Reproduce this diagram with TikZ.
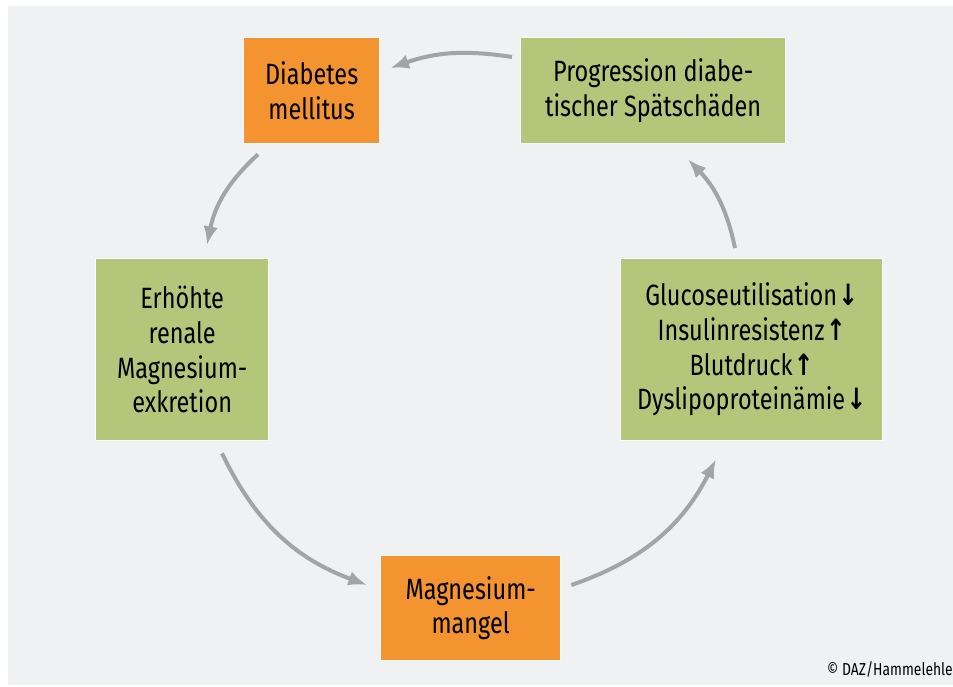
\documentclass[tikz,border=0pt]{standalone}
\usepackage{fontspec}
\setmainfont{Fira Sans}[FakeStretch=0.8]
\newfontfamily\symfont{DejaVu Sans}[FakeStretch=0.8]
\usepackage{xcolor}
\usepackage{tikz}
\usetikzlibrary{arrows.meta, positioning}

\definecolor{dazOrange}{HTML}{F39430}
\definecolor{dazGreen}{HTML}{B4C67A}
\definecolor{dazBack}{HTML}{F0F1F3}
\definecolor{dazArrow}{HTML}{A3A4A6}

\newcommand{\dn}{\kern1pt{\symfont\bfseries\char"2193}}
\newcommand{\up}{\kern1pt{\symfont\bfseries\char"2191}}

\begin{document}
\begin{tikzpicture}[
  x=0.75pt, y=0.75pt,
  box/.style={rectangle, draw=white!70!dazBack, line width=1pt, inner sep=0pt,
              align=center, font=\fontsize{22}{26}\selectfont, anchor=north west},
  orangeBox/.style={box, fill=dazOrange},
  greenBox/.style={box, fill=dazGreen},
  arr/.style={-{Latex[length=14pt, width=11pt]}, line width=3pt, draw=dazArrow}
]
% background
\fill[white] (0,0) rectangle (953,-686);
\fill[dazBack] (8,-6) rectangle (953,-685);
\useasboundingbox (0,0) rectangle (953,-686);

% boxes
\node[orangeBox, minimum width=102pt, minimum height=79.5pt] (diab) at (243,-37) {Diabetes\\mellitus};
\node[greenBox, minimum width=198.75pt, minimum height=79.5pt] (prog) at (520,-37) {Progression diabe-\\tischer Spätschäden};
\node[greenBox, minimum width=129.75pt, minimum height=136.5pt] (renal) at (95,-258) {Erhöhte\\renale\\Magnesium-\\exkretion};
\node[greenBox, minimum width=196.5pt, minimum height=136.5pt] (gluc) at (620,-258) {Glucoseutilisation\dn\\Insulinresistenz\up\\Blutdruck\up\\Dyslipoproteinämie\dn};
\node[orangeBox, minimum width=135pt, minimum height=78.75pt] (mgm) at (380,-555) {Magnesium-\\mangel};

% cycle
\draw[arr] ([shift={(-8,-20)}]prog.north west) to[bend right=14] ([shift={(10,-31)}]diab.north east);
\draw[arr] ([shift={(15,-10)}]diab.south west) to[bend right=18] ([shift={(112,13)}]renal.north west);
\draw[arr] ([shift={(127,-12)}]renal.south west) to[bend right=22] ([shift={(-13,-30)}]mgm.north west);
\draw[arr] ([shift={(10,-30)}]mgm.north east) to[bend right=22] ([shift={(96,-18)}]gluc.south west);
\draw[arr] ([shift={(115,10)}]gluc.north west) to[bend right=16] ([shift={(168,-15)}]prog.south west);

\node[anchor=east, inner sep=0pt, font=\fontsize{13}{15}\selectfont] (credit) at (953,-669) {© DAZ/Hammelehle};
\end{tikzpicture}
\end{document}
